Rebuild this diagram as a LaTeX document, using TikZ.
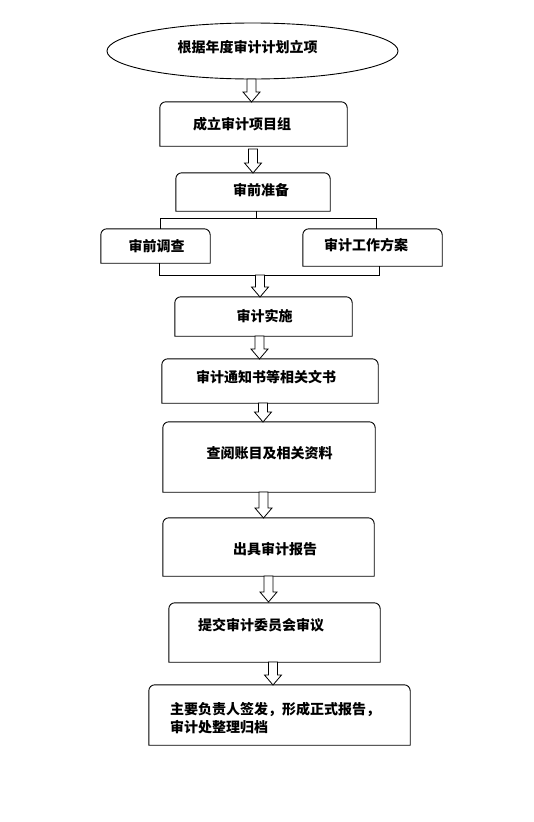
\documentclass[tikz,border=0pt]{standalone}
\usepackage{fontspec}
\newfontfamily\cjk{Noto Sans CJK SC}
\usetikzlibrary{shapes.geometric}
\tikzset{
  boxline/.style={draw=black, line width=0.9pt},
  arrowline/.style={draw=black, line width=0.8pt, fill=white},
  txt/.style={font=\cjk\bfseries\fontsize{14pt}{18pt}\selectfont, inner sep=0pt},
  bracket/.style={draw=black, line width=0.8pt}
}
\newcommand\tbox[5]{%
  \node[minimum width=#4pt, minimum height=#5pt, inner sep=0pt, draw=none] (#1) at (#2,#3) {};
  \draw[boxline] (#1.south west) -- ([yshift=-6pt]#1.north west) arc[start angle=180, end angle=90, radius=6pt] -- ([xshift=-6pt]#1.north east) arc[start angle=90, end angle=0, radius=6pt] -- (#1.south east) -- cycle;}
\newcommand\blockarrow[3]{%
  \draw[arrowline] (#1-4.5,#2) -- (#1+4.5,#2) -- (#1+4.5,#3-10) -- (#1+8.5,#3-10) -- (#1,#3) -- (#1-8.5,#3-10) -- (#1-4.5,#3-10) -- cycle;}
\begin{document}
\begin{tikzpicture}[x=1pt, y=-1pt]
\useasboundingbox (0,0) rectangle (534,822);
\fill[white] (0,0) rectangle (534,822);

\node[draw, line width=0.9pt, ellipse, minimum width=291pt, minimum height=56pt, inner sep=0pt] (e) at (252.5,51) {};
\node[txt] (t1) at (247.5,47) {根据年度审计计划立项};

\tbox{b2}{253.5}{124}{187}{44}
\node[txt] (t2) at (242,124) {成立审计项目组};

\tbox{b3}{253}{192}{154}{38}
\node[txt] (t3) at (261,190) {审前准备};

\tbox{b4l}{155.5}{246}{109}{34}
\node[txt] (t4l) at (156.5,246) {审前调查};

\tbox{b4r}{372.5}{247.5}{139}{37}
\node[txt] (t4r) at (366,245) {审计工作方案};

\tbox{b5}{263.5}{316.5}{177}{39}
\node[txt] (t5) at (264.5,316) {审计实施};

\tbox{b6}{270}{381}{216}{44}
\node[txt] (t6) at (266,377) {审计通知书等相关文书};

\tbox{b7}{269}{457}{212}{70}
\node[txt] (t7) at (269.5,453) {查阅账目及相关资料};

\tbox{b8}{268.5}{547}{211}{58}
\node[txt] (t8) at (275,549) {出具审计报告};

\tbox{b9}{274.5}{632.5}{211}{59}
\node[txt] (t9) at (261,625) {提交审计委员会审议};

\tbox{b10}{279.5}{715}{261}{60}
\node[txt, align=left, anchor=west] (t10) at (170,718) {主要负责人签发，形成正式报告，\\审计处整理归档};

% brackets
\coordinate (tb) at (256,218);
\coordinate (tl) at (160,218);
\coordinate (tr) at (376,218);
\draw[bracket] (tb |- b3.south) -- (tb);
\draw[bracket] (tl |- b4l.north) -- (tl) -- (tr) -- (tr |- b4r.north);
\coordinate (bl) at (159,275);
\coordinate (br) at (379,275);
\draw[bracket] (bl |- b4l.south) -- (bl) -- (br) -- (br |- b4r.south);

% block arrows
\blockarrow{251.5}{79}{102}
\blockarrow{253}{149}{173}
\blockarrow{260}{275}{297}
\blockarrow{259.5}{336}{359}
\blockarrow{263}{403}{422}
\blockarrow{263.5}{492}{518}
\blockarrow{268.5}{576}{602}
\blockarrow{273}{662}{685}
\end{tikzpicture}
\end{document}
